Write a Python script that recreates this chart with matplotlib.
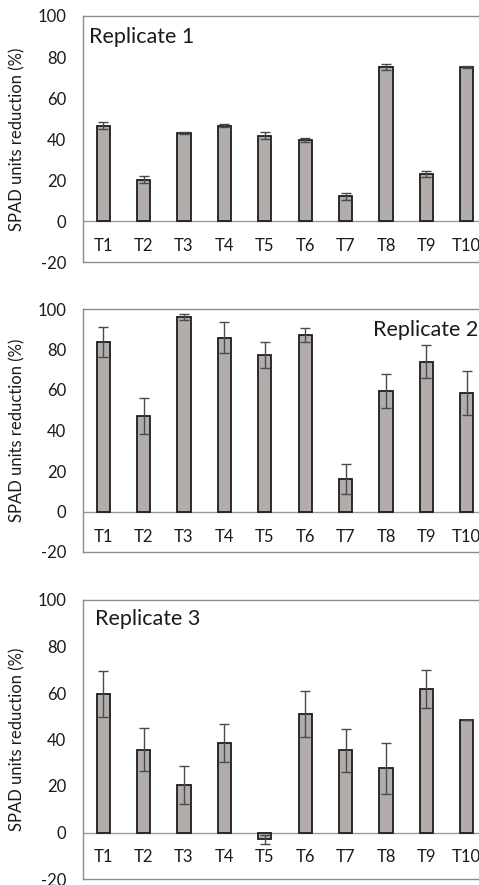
import numpy as np
import matplotlib
matplotlib.use("Agg")
import matplotlib.pyplot as plt

plt.rcParams['font.family'] = ['Lato', 'DejaVu Sans']
plt.rcParams['axes.unicode_minus'] = False

treatments = ["T1", "T2", "T3", "T4", "T5", "T6", "T7", "T8", "T9", "T10"]

rep1 = [46.5, 20.2, 42.8, 46.5, 41.6, 39.5, 12.0, 75.3, 22.8, 75.1]
rep1_err = [1.6, 1.6, 0.5, 0.8, 1.6, 0.8, 1.6, 1.5, 1.5, 0.5]

rep2 = [83.8, 47.3, 96.2, 85.8, 77.5, 87.3, 16.0, 59.3, 74.0, 58.7]
rep2_err = [7.3, 8.8, 1.5, 7.6, 6.4, 3.5, 7.3, 8.4, 8.1, 10.9]

rep3 = [59.7, 35.6, 20.4, 38.5, -2.9, 50.9, 35.3, 27.7, 61.7, 48.6]
rep3_err = [9.9, 9.3, 8.0, 8.3, 2.0, 9.8, 9.3, 11.0, 8.0, 0.0]

panels = [
    ("Replicate 1", rep1, rep1_err),
    ("Replicate 2", rep2, rep2_err),
    ("Replicate 3", rep3, rep3_err),
]

W, H = 479, 885
fig = plt.figure(figsize=(W / 100, H / 100), dpi=100)

# axes boxes in pixels: (top, bottom); right side runs past the figure edge
boxes = [(16, 262), (309, 552), (600, 879)]
left_px = 83
width_px = 404

for (title, vals, errs), (top, bot) in zip(panels, boxes):
    ax = fig.add_axes([left_px / W, 1 - bot / H, width_px / W, (bot - top) / H])
    x = np.arange(len(treatments))
    ax.bar(x, vals, width=0.33, color="#b2adaa", edgecolor="#1e1e1e", linewidth=1.3, zorder=2)
    ax.errorbar(x, vals, yerr=errs, fmt="none", ecolor="#4a4a4a", elinewidth=1.0,
                capsize=3.5, capthick=1.0, zorder=3)
    ax.axhline(0, color="#9a9a9a", linewidth=1.0, zorder=1)
    ax.set_xlim(-0.5, 9.5)
    ax.set_ylim(-20, 100)
    ax.set_yticks(range(-20, 101, 20))
    ax.set_xticks([])
    ax.tick_params(axis="y", length=0, pad=12, labelsize=12, colors="#1a1a1a")
    for s in ax.spines.values():
        s.set_color("#8c8c8c")
        s.set_linewidth(1.0)
    for i, t in enumerate(treatments):
        ax.annotate(t, (i, 0), xytext=(0, -18), textcoords="offset points",
                    ha="center", va="center", fontsize=12, color="#1a1a1a")
    ax.set_ylabel("SPAD units reduction (%)", fontsize=12, color="#1a1a1a")
    ax.yaxis.set_label_coords(-58 / width_px, 0.5)

    if title == "Replicate 2":
        fig.text(478 / W, 1 - 330 / H, title, ha="right", va="center", fontsize=15.5, color="#1a1a1a")
    elif title == "Replicate 1":
        fig.text(89 / W, 1 - 37 / H, title, ha="left", va="center", fontsize=15.5, color="#1a1a1a")
    else:
        fig.text(95 / W, 1 - 619 / H, title, ha="left", va="center", fontsize=15.5, color="#1a1a1a")

fig.savefig("out.png", dpi=100)
